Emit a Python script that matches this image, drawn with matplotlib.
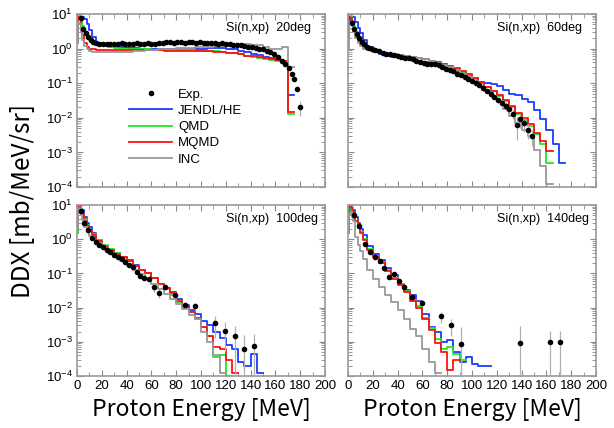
import matplotlib.pyplot as plt
import numpy as np
from matplotlib.lines import Line2D
from matplotlib.ticker import LogLocator, MultipleLocator, NullFormatter, LogFormatterMathtext

plt.rcParams['font.family'] = ['Liberation Sans', 'DejaVu Sans']
plt.rcParams['mathtext.default'] = 'regular'

# bin edges (MeV) of the calculated spectra
edges = [0, 1, 2, 3, 4, 6, 8, 10, 12, 15, 20, 25, 30, 35, 40, 45, 50, 55, 60, 65,
         70, 75, 80, 85, 90, 95, 100, 105, 110, 115, 120, 125, 130, 135, 140,
         145, 150, 155, 160, 165, 170, 175, 180, 185, 190, 195, 200]

angles = ['20deg', '60deg', '100deg', '140deg']
models = ['JENDL/HE', 'QMD', 'MQMD', 'INC']
colors = ['#1a3cff', '#22e622', '#ff1010', '#999999']

# ---- 20 deg ----
jendl20 = [2.5, 7, 8.5, 8.5, 8, 7, 5, 3.5, 2.2, 1.5, 1.3, 1.2, 1.15, 1.1, 1.05, 1.05,
           1.0, 1.0, 1.0, 1.0, 0.98, 0.97, 0.95, 0.95, 0.95, 0.95, 0.97, 1.02, 1.05,
           1.05, 1.0, 0.95, 0.88, 0.8, 0.72, 0.65, 0.58, 0.52, 0.47, 0.4, 0.045]
qmd20 = [1.5, 9, 9, 7, 4.5, 3, 2.2, 1.8, 1.5, 1.35, 1.2, 1.12, 1.05, 1.0, 0.98, 0.96,
         0.95, 0.95, 0.93, 0.93, 0.92, 0.92, 0.9, 0.9, 0.9, 0.88, 0.87, 0.85, 0.83,
         0.8, 0.77, 0.73, 0.68, 0.63, 0.58, 0.53, 0.5, 0.47, 0.43, 0.42, 0.013]
mqmd20 = [1.5, 8, 7, 4, 2.5, 1.5, 1.15, 1.0, 0.95, 0.92, 0.9, 0.9, 0.9, 0.9, 0.9, 0.9,
          0.9, 0.9, 0.9, 0.9, 0.88, 0.88, 0.88, 0.87, 0.87, 0.86, 0.85, 0.84, 0.82,
          0.8, 0.77, 0.73, 0.68, 0.63, 0.6, 0.56, 0.52, 0.5, 0.48, 0.45, 0.015]
inc20 = [1.5, 6, 5, 3, 1.8, 1.2, 0.95, 0.85, 0.8, 0.8, 0.78, 0.78, 0.78, 0.8, 0.82,
         0.85, 0.88, 0.9, 0.92, 0.95, 0.97, 1.0, 1.02, 1.05, 1.08, 1.1, 1.12, 1.15,
         1.18, 1.22, 1.28, 1.3, 1.32, 1.32, 1.3, 1.25, 1.15, 1.0, 0.95, 1.1, 0.3]
exp20_e = [3, 5, 7, 9, 11, 13, 15, 18, 21, 24, 27, 30, 33, 36, 39, 42, 45, 48, 51,
           54, 57, 60, 63, 66, 69, 72, 75, 78, 81, 84, 87, 90, 93, 96, 99, 102, 105,
           108, 111, 114, 117, 120, 123, 126, 129, 132, 135, 138, 141, 144, 147, 150,
           153, 156, 159, 162, 165, 168, 171, 173, 175, 177, 180]
exp20_y = [7.5, 3.8, 2.8, 2.2, 1.8, 1.6, 1.5, 1.4, 1.35, 1.4, 1.35, 1.4, 1.35, 1.42,
           1.38, 1.35, 1.4, 1.45, 1.38, 1.35, 1.42, 1.4, 1.35, 1.45, 1.5, 1.55, 1.6,
           1.5, 1.55, 1.6, 1.5, 1.55, 1.6, 1.5, 1.55, 1.5, 1.45, 1.5, 1.45, 1.4, 1.45,
           1.4, 1.35, 1.3, 1.3, 1.25, 1.2, 1.15, 1.1, 1.05, 1.0, 0.95, 0.85, 0.78,
           0.68, 0.58, 0.45, 0.35, 0.28, 0.18, 0.13, 0.07, 0.021]
exp20_dy = [0] * 57 + [0.02, 0.02, 0.02, 0.015, 0.012, 0.01]

# ---- 60 deg ----
jendl60 = [1.5, 6, 8.5, 8.5, 8, 6, 4, 2.8, 1.8, 1.1, 0.85, 0.7, 0.62, 0.57, 0.53, 0.5,
           0.47, 0.45, 0.42, 0.38, 0.34, 0.3, 0.26, 0.22, 0.19, 0.16, 0.14, 0.11, 0.1,
           0.095, 0.085, 0.065, 0.05, 0.045, 0.035, 0.028, 0.017, 0.009, 0.0045,
           0.0018, 0.0005]
qmd60 = [1.5, 9, 9, 6.5, 4.5, 3, 2, 1.5, 1.15, 0.98, 0.86, 0.78, 0.72, 0.67, 0.63, 0.6,
         0.57, 0.53, 0.5, 0.45, 0.4, 0.36, 0.31, 0.26, 0.21, 0.17, 0.13, 0.1, 0.078,
         0.058, 0.043, 0.03, 0.02, 0.013, 0.0085, 0.006, 0.0035, 0.0018, 0.0005]
mqmd60 = [2, 8, 7.5, 5.5, 3.7, 2.2, 1.6, 1.3, 1.05, 0.92, 0.82, 0.75, 0.7, 0.66, 0.62,
          0.59, 0.57, 0.53, 0.5, 0.45, 0.41, 0.37, 0.32, 0.27, 0.22, 0.18, 0.14, 0.11,
          0.08, 0.06, 0.045, 0.032, 0.022, 0.014, 0.01, 0.0065, 0.0037, 0.0022, 0.0011]
inc60 = [1, 5, 6, 4.5, 3, 2, 1.5, 1.2, 1.0, 0.9, 0.83, 0.77, 0.72, 0.68, 0.64, 0.6,
         0.57, 0.53, 0.49, 0.44, 0.39, 0.34, 0.29, 0.24, 0.19, 0.15, 0.115, 0.085,
         0.06, 0.042, 0.03, 0.018, 0.011, 0.007, 0.0045, 0.003, 0.0012, 0.0004, 0.00012]
exp60_e = [3, 5, 7, 9, 11, 13, 15, 17, 19, 22, 25, 28, 31, 34, 37, 40, 43, 46, 49, 52,
           55, 58, 61, 64, 67, 70, 73, 76, 79, 82, 85, 88, 91, 94, 97, 100, 103, 106,
           109, 112, 115, 118, 121, 124, 127, 130, 133, 136, 139, 142, 145, 148]
exp60_y = [5.5, 3.8, 2.6, 2.0, 1.6, 1.35, 1.15, 1.05, 1.0, 0.92, 0.85, 0.75, 0.72,
           0.68, 0.64, 0.6, 0.58, 0.55, 0.52, 0.5, 0.45, 0.4, 0.38, 0.37, 0.36, 0.35,
           0.33, 0.3, 0.26, 0.24, 0.22, 0.19, 0.17, 0.15, 0.13, 0.115, 0.1, 0.09, 0.075,
           0.06, 0.048, 0.04, 0.032, 0.027, 0.022, 0.018, 0.013, 0.0063, 0.009, 0.007,
           0.0045, 0.003]
exp60_dy = [0] * 36 + [0.01, 0.01, 0.008, 0.007, 0.006, 0.006, 0.006, 0.006, 0.006,
                       0.005, 0.004, 0.004, 0.004, 0.003, 0.002, 0.0015]

# ---- 100 deg ----
jendl100 = [1.5, 6, 7.5, 7.5, 7, 4.5, 3, 2.2, 1.5, 0.95, 0.65, 0.48, 0.4, 0.3, 0.24,
            0.18, 0.13, 0.1, 0.075, 0.05, 0.038, 0.028, 0.018, 0.012, 0.0085, 0.0065,
            0.004, 0.003, 0.002, 0.0013, 0.0008, 0.0006, 0.00025, 0.0002, 0.00045,
            0.00012]
qmd100 = [1.5, 8, 9, 7.5, 5.5, 3.8, 2.6, 1.9, 1.4, 0.95, 0.68, 0.52, 0.4, 0.31, 0.23,
          0.17, 0.13, 0.1, 0.072, 0.048, 0.035, 0.024, 0.015, 0.01, 0.0075, 0.0045,
          0.0028, 0.0015, 0.00035, 0.0004, 0.0001]
mqmd100 = [2, 8.5, 8.5, 7, 5.5, 3.5, 2.5, 1.8, 1.3, 0.9, 0.6, 0.48, 0.38, 0.3, 0.23,
           0.17, 0.13, 0.1, 0.075, 0.05, 0.037, 0.026, 0.016, 0.011, 0.0075, 0.005,
           0.0028, 0.0015, 0.0007, 0.0006, 0.0003, 0.00012]
inc100 = [2, 7, 8, 5, 3.6, 2.3, 1.65, 1.25, 0.95, 0.8, 0.55, 0.4, 0.3, 0.23, 0.17,
          0.13, 0.095, 0.07, 0.048, 0.035, 0.025, 0.018, 0.013, 0.009, 0.006, 0.0045,
          0.002, 0.001, 0.0004, 0.00012]
exp100_e = [3, 6, 9, 12, 15, 18, 21, 24, 27, 30, 33, 36, 39, 42, 45, 48, 51, 54, 58,
            62, 66, 71, 79, 87, 95, 111, 119, 127, 135, 143]
exp100_y = [6.5, 3.0, 1.8, 1.05, 0.85, 0.68, 0.58, 0.5, 0.42, 0.35, 0.3, 0.26, 0.22,
            0.18, 0.15, 0.11, 0.085, 0.072, 0.068, 0.04, 0.027, 0.04, 0.023, 0.012,
            0.011, 0.0035, 0.0021, 0.0015, 0.0006, 0.00075]
exp100_dy = [0] * 19 + [0.012, 0.008, 0.008, 0.005, 0.003, 0.003, 0.0022, 0.0016,
                        0.0014, 0.001, 0.0009]

# ---- 140 deg ----
jendl140 = [1.5, 6, 8, 8, 7, 4.6, 2.9, 2.0, 1.3, 0.65, 0.38, 0.25, 0.14, 0.09, 0.05,
            0.033, 0.023, 0.016, 0.0067, 0.0028, 0.002, 0.001, 0.0011, 0.0005, 0.00025,
            0.00035, 0.00022, 0.00019, 0.0002]
qmd140 = [1.5, 7, 8.5, 7.5, 5.8, 3.5, 2.3, 1.6, 1.0, 0.52, 0.32, 0.21, 0.13, 0.075,
          0.048, 0.03, 0.017, 0.011, 0.005, 0.0025, 0.0012, 0.0006, 0.0007, 0.00045,
          0.0003]
mqmd140 = [1.5, 8.5, 8.5, 7, 5.7, 3.3, 2.1, 1.5, 0.94, 0.48, 0.3, 0.2, 0.12, 0.07,
           0.045, 0.029, 0.016, 0.01, 0.0048, 0.0022, 0.0009, 0.0005, 0.00015, 0.0003]
inc140 = [1.5, 5, 6.4, 4.5, 3.3, 1.2, 0.67, 0.45, 0.27, 0.125, 0.07, 0.04, 0.023,
          0.015, 0.0083, 0.0048, 0.0024, 0.0015, 0.0006, 0.00025, 0.00012]
exp140_e = [5, 9, 13.7, 17.7, 21.8, 25.8, 29.3, 33.3, 37.4, 41.1, 45.4, 51.3, 59.4,
            75, 83, 91, 139, 163, 171]
exp140_y = [5.0, 2.5, 0.72, 0.43, 0.3, 0.23, 0.145, 0.079, 0.095, 0.06, 0.039, 0.021,
            0.014, 0.0056, 0.003, 0.00087, 0.00094, 0.001, 0.001]
exp140_dy = [0, 0, 0, 0, 0, 0, 0, 0, 0, 0, 0, 0.003, 0.003, 0.002, 0.0015, 0.0019,
             0.0019, 0.0011, 0.0011]

calc = [[jendl20, qmd20, mqmd20, inc20],
        [jendl60, qmd60, mqmd60, inc60],
        [jendl100, qmd100, mqmd100, inc100],
        [jendl140, qmd140, mqmd140, inc140]]
exps = [(exp20_e, exp20_y, exp20_dy), (exp60_e, exp60_y, exp60_dy),
        (exp100_e, exp100_y, exp100_dy), (exp140_e, exp140_y, exp140_dy)]

fig = plt.figure(figsize=(6.14, 4.28), dpi=100)
rects = [[0.1254, 0.5631, 0.404, 0.404], [0.5668, 0.5631, 0.404, 0.404],
         [0.1254, 0.1215, 0.404, 0.3995], [0.5668, 0.1215, 0.404, 0.3995]]

for k in range(4):
    ax = fig.add_axes(rects[k])
    for vals, c in zip(calc[k], colors):
        x = edges[:len(vals) + 1]
        y = list(vals) + [vals[-1]]
        ax.step(x, y, where='post', color=c, lw=1.3)
    e, v, dv = exps[k]
    ax.errorbar(e, v, yerr=dv, fmt='o', color='black', ms=3.0, ecolor='#b0b0b0',
                elinewidth=0.9, capsize=0, zorder=5)
    ax.text(0.6, 0.92, 'Si(n,xp)  ' + angles[k], transform=ax.transAxes,
            fontsize=9, ha='left', va='center')

    ax.set_yscale('log')
    ax.set_ylim(1e-4, 10)
    ax.set_xlim(0, 200)
    ax.xaxis.set_major_locator(MultipleLocator(20))
    ax.xaxis.set_minor_locator(MultipleLocator(10))
    ax.yaxis.set_major_locator(LogLocator(base=10, numticks=10))
    ax.yaxis.set_minor_locator(LogLocator(base=10, subs=np.arange(2, 10), numticks=10))
    ax.yaxis.set_minor_formatter(NullFormatter())
    ax.yaxis.set_major_formatter(LogFormatterMathtext())
    ax.tick_params(which='both', direction='in', top=True, right=True,
                   color='#888888', labelsize=9.5, pad=3)
    ax.tick_params(which='major', length=4)
    ax.tick_params(which='minor', length=3)
    for s in ax.spines.values():
        s.set_color('#999999')
        s.set_linewidth(1.2)
    if k % 2 == 1:
        ax.tick_params(labelleft=False)
    if k < 2:
        ax.tick_params(labelbottom=False)
    else:
        ax.set_xlabel('Proton Energy [MeV]', fontsize=16.5, labelpad=4,
                      family=['Noto Sans CJK JP', 'DejaVu Sans'])

    if k == 0:
        handles = [Line2D([], [], marker='o', ls='none', color='black', ms=3.0)]
        handles += [Line2D([], [], color=c, lw=1.3) for c in colors]
        ax.legend(handles, ['Exp.'] + models, loc='upper left',
                  bbox_to_anchor=(0.19, 0.6), frameon=False, fontsize=9.5,
                  handlelength=3.2, labelspacing=0.3, handletextpad=0.5,
                  borderaxespad=0)

fig.text(0.037, 0.53, 'DDX [mb/MeV/sr]', rotation=90, fontsize=17.5,
         ha='center', va='center', family=['Noto Sans CJK JP', 'DejaVu Sans'])

fig.savefig('out.png', dpi=100)
